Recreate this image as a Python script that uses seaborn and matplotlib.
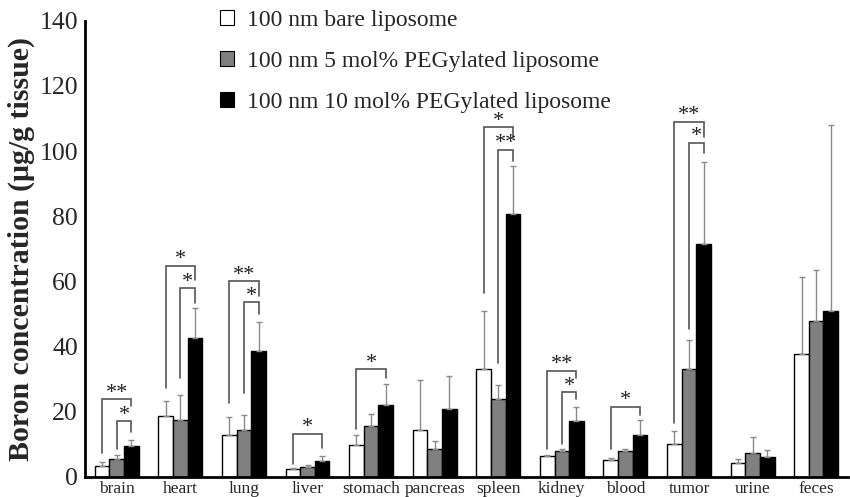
import numpy as np
import pandas as pd
import matplotlib
matplotlib.use("Agg")
import matplotlib.pyplot as plt
import seaborn as sns
from matplotlib.patches import Patch

organs = ["brain", "heart", "lung", "liver", "stomach", "pancreas", "spleen",
          "kidney", "blood", "tumor", "urine", "feces"]
series = ["100 nm bare liposome", "100 nm 5 mol% PEGylated liposome",
          "100 nm 10 mol% PEGylated liposome"]

bare = [3.3, 18.5, 12.7, 2.4, 9.6, 14.4, 33.0, 6.3, 5.0, 10.0, 4.1, 37.7]
peg5 = [5.4, 17.5, 14.2, 2.9, 15.6, 8.4, 23.9, 7.8, 7.9, 33.2, 7.2, 47.7]
peg10 = [9.5, 42.7, 38.5, 4.9, 22.1, 20.7, 80.6, 17.0, 12.7, 71.5, 6.0, 51.0]

bare_err = [1.2, 4.6, 5.6, 0.2, 3.1, 15.3, 18.0, 0.3, 0.6, 4.0, 1.4, 23.7]
peg5_err = [1.2, 7.5, 4.6, 0.6, 3.6, 2.7, 4.3, 0.7, 0.6, 8.8, 5.0, 15.9]
peg10_err = [1.7, 9.0, 9.0, 1.5, 6.5, 10.3, 14.9, 4.4, 4.6, 25.0, 2.3, 57.0]

# significance brackets: organ index, left series, right series, height, leg bottoms, label
brk_organ = [0, 0, 1, 1, 2, 2, 3, 4, 6, 6, 7, 7, 8, 9, 9]
brk_left = [0, 1, 0, 1, 0, 1, 0, 0, 0, 1, 0, 1, 0, 0, 1]
brk_right = [2, 2, 2, 2, 2, 2, 2, 2, 2, 2, 2, 2, 2, 2, 2]
brk_height = [23.8, 17.0, 64.7, 57.8, 60.0, 53.5, 13.2, 33.0, 107.3, 100.4, 32.6, 25.9, 21.5, 109.0, 102.5]
brk_lbot = [7.4, 8.5, 27.1, 30.2, 22.5, 25.8, 3.8, 14.6, 56.5, 34.8, 8.4, 9.9, 8.4, 16.6, 45.3]
brk_rbot = [21.7, 13.8, 60.4, 53.2, 55.5, 50.0, 8.7, 30.2, 104.2, 97.0, 30.2, 23.8, 19.0, 104.4, 99.5]
brk_label = ["**", "*", "*", "*", "**", "*", "*", "*", "*", "**", "**", "*", "*", "**", "*"]

df = pd.DataFrame({
    "organ": organs * 3,
    "group": [series[0]] * 12 + [series[1]] * 12 + [series[2]] * 12,
    "value": bare + peg5 + peg10,
})
errs = [bare_err, peg5_err, peg10_err]
vals = [bare, peg5, peg10]

sns.set_style("white")
plt.rcParams["font.family"] = ["Liberation Serif", "DejaVu Serif"]

fig = plt.figure(figsize=(8.5, 4.97), dpi=100)
ax = fig.add_axes([0.1, 0.0408, 0.8976, 0.9175])

colors = ["#ffffff", "#808080", "#000000"]
sns.barplot(data=df, x="organ", y="value", hue="group", order=organs,
            hue_order=series, palette=colors, edgecolor="black", linewidth=1.0,
            width=0.69, errorbar=None, legend=False, ax=ax, saturation=1)

bar_containers = list(ax.containers)
centers = {}
for j, cont in enumerate(bar_containers):
    centers[j] = [p.get_x() + p.get_width() / 2 for p in cont.patches]

# error bars (upper only)
for j in range(3):
    xs = centers[j]
    ax.errorbar(xs, vals[j], yerr=[np.zeros(len(xs)), errs[j]], fmt="none",
                ecolor="#8a8a8a", elinewidth=1.0, capsize=2.5, capthick=1.0, zorder=1)

# significance brackets
for o, l, r, h, lb, rb, lab in zip(brk_organ, brk_left, brk_right, brk_height,
                                   brk_lbot, brk_rbot, brk_label):
    x1 = centers[l][o]
    x2 = centers[r][o]
    ax.plot([x1, x1, x2, x2], [lb, h, h, rb], color="#555555", lw=1.2,
            solid_joinstyle="miter", zorder=3)
    ax.text((x1 + x2) / 2, h + 0.5, lab, ha="center", va="baseline",
            fontsize=16, color="#222222")

ax.set_xlim(-0.5, 11.5)
ax.set_ylim(0, 140)
ax.set_yticks(range(0, 141, 20))
ax.set_xlabel("")
ax.set_ylabel("Boron concentration (μg/g tissue)", fontsize=21.5, fontweight="bold",
              labelpad=3)
ax.tick_params(axis="y", direction="in", length=5, width=1.5, labelsize=18.5, pad=5)
ax.tick_params(axis="x", length=0, labelsize=12.5, pad=3)
for s in ["top", "right"]:
    ax.spines[s].set_visible(False)
for s in ["left", "bottom"]:
    ax.spines[s].set_linewidth(2)
    ax.spines[s].set_color("black")

handles = [Patch(facecolor=c, edgecolor="black", linewidth=0.8) for c in colors]
leg = ax.legend(handles, series, loc="upper left", bbox_to_anchor=(0.165, 1.045),
                frameon=False, fontsize=17, handlelength=0.6, handleheight=0.6,
                handletextpad=0.55, labelspacing=0.85, borderaxespad=0)

fig.savefig("out.png", dpi=100)
